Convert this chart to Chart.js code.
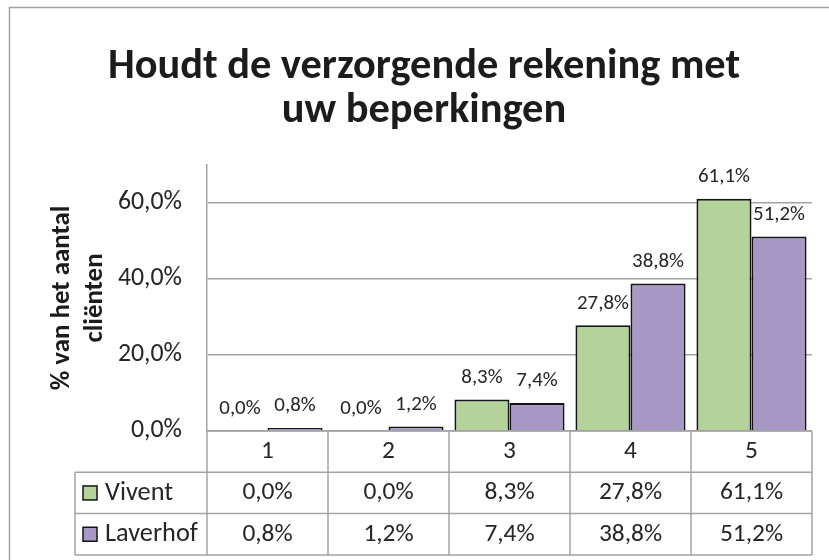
<!DOCTYPE html>
<html>
<head>
<meta charset="utf-8">
<script src="https://cdn.jsdelivr.net/npm/chart.js@4/dist/chart.umd.min.js"></script>
<style>
html,body{margin:0;padding:0;background:#ffffff;}
#wrap{width:829px;height:560px;position:relative;overflow:hidden;}
canvas{display:block;}
</style>
</head>
<body>
<div id="wrap"><canvas id="c" width="829" height="560"></canvas></div>
<script>
// ---- data ----
const categories = ['1', '2', '3', '4', '5'];
const seriesNames = ['Vivent', 'Laverhof'];
const viventValues = [0.0, 0.0, 8.3, 27.8, 61.1];
const laverhofValues = [0.8, 1.2, 7.4, 38.8, 51.2];
const yTickValues = [0, 20, 40, 60];
const titleLines = ['Houdt de verzorgende rekening met', 'uw beperkingen'];
const yTitleLines = ['% van het aantal', 'cliënten'];

// ---- styles ----
const FONT = 'Carlito, Lato, sans-serif';
const greenFill = '#B3D39B';
const purpleFill = '#A898C6';
const barBorder = '#141414';
const gridGray = '#A3A3A3';
const textDark = '#262626';

function fmt(v) { return v.toFixed(1).replace('.', ',') + '%'; }

const seriesValues = [viventValues, laverhofValues];
const seriesFills = [greenFill, purpleFill];

// font size so that a sample string gets a target width
function fitSize(sample, targetW, weight) {
  const cv = document.createElement('canvas');
  const c = cv.getContext('2d');
  c.font = (weight || 'normal') + ' 100px ' + FONT;
  const w = c.measureText(sample).width;
  return Math.round(100 * targetW / w * 10) / 10;
}

let S = {};

const frameBorder = {
  id: 'frameBorder',
  beforeDraw(chart) {
    const ctx = chart.ctx;
    ctx.save();
    ctx.fillStyle = '#ffffff';
    ctx.fillRect(0, 0, chart.width, chart.height);
    ctx.strokeStyle = gridGray;
    ctx.lineWidth = 1.5;
    ctx.beginPath();
    ctx.moveTo(9.5, chart.height + 5);
    ctx.lineTo(9.5, 7.5);
    ctx.lineTo(chart.width + 5, 7.5);
    ctx.stroke();
    ctx.restore();
  }
};

const barLabels = {
  id: 'barLabels',
  afterDatasetsDraw(chart) {
    const ctx = chart.ctx;
    ctx.save();
    ctx.font = S.label + 'px ' + FONT;
    ctx.fillStyle = textDark;
    ctx.textAlign = 'center';
    ctx.textBaseline = 'middle';
    chart.data.datasets.forEach((ds, di) => {
      const meta = chart.getDatasetMeta(di);
      meta.data.forEach((bar, i) => {
        ctx.fillText(fmt(ds.data[i]), bar.x, bar.y - 22);
      });
    });
    ctx.restore();
  }
};

const dataTable = {
  id: 'dataTable',
  afterDraw(chart) {
    const ctx = chart.ctx;
    const xs = chart.scales.x;
    const area = chart.chartArea;
    const n = categories.length;
    const cw = (area.right - area.left) / n;
    const rowH = 41.3;
    const legendLeft = 75;
    const r0 = area.bottom, r1 = r0 + rowH, r2 = r1 + rowH, r3 = r2 + rowH;
    ctx.save();
    ctx.strokeStyle = gridGray;
    ctx.lineWidth = 1.5;
    const ln = (x1, y1, x2, y2) => { ctx.beginPath(); ctx.moveTo(x1, y1); ctx.lineTo(x2, y2); ctx.stroke(); };
    ln(area.left, r0, area.right, r0);
    ln(legendLeft, r1, area.right, r1);
    ln(legendLeft, r2, area.right, r2);
    ln(legendLeft, r3, area.right, r3);
    for (let i = 0; i <= n; i++) {
      const x = (i < n ? xs.getPixelForValue(i) - cw / 2 : xs.getPixelForValue(n - 1) + cw / 2);
      ln(x, r0, x, r3);
    }
    ln(legendLeft, r1, legendLeft, r3);

    ctx.fillStyle = textDark;
    ctx.font = S.table + 'px ' + FONT;
    ctx.textAlign = 'center';
    ctx.textBaseline = 'middle';
    categories.forEach((c, i) => {
      const x = xs.getPixelForValue(i);
      ctx.fillText(c, x, (r0 + r1) / 2);
      ctx.fillText(fmt(viventValues[i]), x, (r1 + r2) / 2);
      ctx.fillText(fmt(laverhofValues[i]), x, (r2 + r3) / 2);
    });
    // legend keys
    const rowsY = [(r1 + r2) / 2, (r2 + r3) / 2];
    ctx.font = S.legend + 'px ' + FONT;
    seriesNames.forEach((name, k) => {
      const cy = rowsY[k];
      ctx.fillStyle = seriesFills[k];
      ctx.fillRect(83, cy - 7, 14, 14);
      ctx.strokeStyle = barBorder;
      ctx.lineWidth = 1.5;
      ctx.strokeRect(83, cy - 7, 14, 14);
      ctx.fillStyle = textDark;
      ctx.textAlign = 'left';
      ctx.fillText(name, 105, cy);
    });
    ctx.restore();
  }
};

function build() {
  S = {
    title: fitSize(titleLines[0], 633, 'bold'),
    axisTitle: fitSize(yTitleLines[0], 185, 'bold'),
    tick: fitSize('40,0%', 64),
    table: fitSize('27,8%', 63),
    label: fitSize('61,1%', 52),
    legend: fitSize('Vivent', 68)
  };
  Chart.defaults.font.family = FONT;
  Chart.defaults.color = textDark;
  new Chart(document.getElementById('c'), {
    type: 'bar',
    data: {
      labels: categories,
      datasets: seriesNames.map((name, k) => ({
        label: name,
        data: seriesValues[k],
        backgroundColor: seriesFills[k],
        borderColor: barBorder,
        borderWidth: 2,
        categoryPercentage: 0.91,
        barPercentage: 1.0
      }))
    },
    options: {
      responsive: false,
      animation: false,
      devicePixelRatio: 1,
      layout: { padding: { left: 36, right: 17, top: 0, bottom: 129 } },
      plugins: {
        legend: { display: false },
        tooltip: { enabled: false },
        title: {
          display: true,
          text: titleLines,
          color: '#1c1c1c',
          font: { family: FONT, size: S.title, weight: 'bold', lineHeight: '44px' },
          padding: { top: 45, bottom: 32 }
        }
      },
      scales: {
        x: { display: false },
        y: {
          min: 0,
          max: 70,
          afterFit(scale) { scale.width = 171; },
          afterBuildTicks(scale) { scale.ticks = yTickValues.map(v => ({ value: v })); },
          ticks: {
            stepSize: 20,
            includeBounds: false,
            padding: 25,
            color: textDark,
            font: { family: FONT, size: S.tick },
            callback: (v) => fmt(v)
          },
          grid: { color: gridGray, lineWidth: 1.5, drawTicks: false },
          border: { display: true, color: gridGray, width: 1.5 },
          title: {
            display: true,
            text: yTitleLines,
            color: '#1c1c1c',
            font: { family: FONT, size: S.axisTitle, weight: 'bold', lineHeight: '33px' },
            padding: { top: 9.5, bottom: 0 }
          }
        }
      }
    },
    plugins: [frameBorder, barLabels, dataTable]
  });
}

const fontLoads = document.fonts ? Promise.all([
  document.fonts.load('22px Carlito'),
  document.fonts.load('bold 32px Carlito')
]) : Promise.resolve();
Promise.race([fontLoads, new Promise(r => setTimeout(r, 800))]).then(build, build);
</script>
</body>
</html>
